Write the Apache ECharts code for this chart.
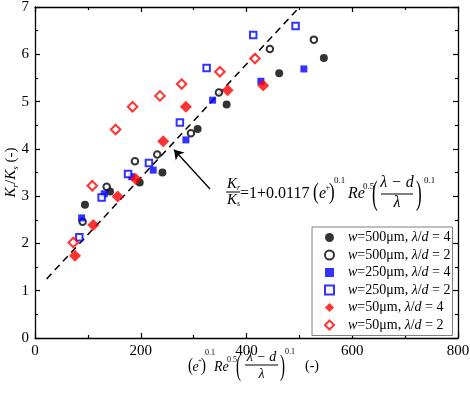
<!DOCTYPE html>
<html>
<head>
<meta charset="utf-8">
<script src="https://cdn.jsdelivr.net/npm/echarts@6/dist/echarts.min.js"></script>
<style>
  html, body { margin: 0; padding: 0; background: #fff; }
  #main { width: 470px; height: 396px; }
</style>
</head>
<body>
<div id="main"></div>
<script>
// values: [x, Kr/Ks]
var w500_r4 = [[94.5,2.82],[141.8,3.10],[198,3.29],[241,3.50],[307.6,4.42],[362.4,4.94],[461.8,5.60],[546.3,5.92]]
var w500_r2 = [[90.1,2.46],[135.5,3.20],[189,3.74],[231.2,3.88],[294.9,4.33],[347.8,5.19],[444.2,6.11],[527.4,6.31]]
var w250_r4 = [[88.2,2.54],[131,3.05],[183,3.41],[223.6,3.55],[285.4,4.19],[335.9,5.03],[427.2,5.43],[508.5,5.69]]
var w250_r2 = [[83.8,2.13],[126,2.97],[176,3.47],[215.5,3.70],[274,4.56],[324.6,5.71],[412.7,6.41],[492.8,6.60]]
var w50_r4  = [[75.6,1.74],[110.3,2.39],[156.3,2.99],[190.5,3.36],[242.5,4.16],[285.4,4.89],[364.3,5.24],[431.6,5.34]]
var w50_r2  = [[72.5,2.02],[108.4,3.22],[152.5,4.41],[184.6,4.89],[236.3,5.12],[277.3,5.37],[349.7,5.63],[415.9,5.91]]

// dashed correlation line and the arrow pointing at it
var fitLine = [[22,1.25],[498,6.97]]
var arrowFrom = [331,3.15]
var arrowTo = [263,3.98]

var xTicks = [0, 200, 400, 600, 800]
var yTicks = [0, 1, 2, 3, 4, 5, 6, 7]

var legendW = ['500', '500', '250', '250', '50', '50']
var legendR = ['4', '2', '4', '2', '4', '2']

var FONT = 'Liberation Serif'

function legendName(i) {
  return 'w=' + legendW[i] + 'μm, λ/d = ' + legendR[i]
}

function txt(x, y, s, size, italic, align, sy) {
  return {
    type: 'text', x: x, y: y, z: 100, scaleY: sy || 1,
    style: {
      text: s, fontSize: size, fontFamily: FONT,
      fontStyle: italic ? 'italic' : 'normal', fill: '#000',
      align: align || 'left', verticalAlign: 'middle'
    }
  }
}
function bar(x1, x2, y) {
  return { type: 'line', z: 100, shape: { x1: x1, y1: y, x2: x2, y2: y }, style: { stroke: '#000', lineWidth: 1 } }
}

// formula inside the plot
var formula = [
  txt(232, 184, 'K', 15, true, 'center'), txt(237, 188, 'r', 8, true),
  bar(226, 240, 192),
  txt(232, 200, 'K', 15, true, 'center'), txt(237, 204, 's', 8, true),
  txt(240, 194, '=1+0.0117', 16),
  txt(313, 193, '(', 17, false, 'left', 1.3),
  txt(319, 194, 'e', 16, true),
  txt(325.5, 188, '+', 8),
  txt(329, 193, ')', 17, false, 'left', 1.3),
  txt(334, 181, '0.1', 9),
  txt(348, 194, 'Re', 16, true),
  txt(363, 187, '0.5', 9),
  txt(372, 195, '(', 17, false, 'left', 2),
  txt(397, 183, 'λ − d', 16, true, 'center'),
  bar(381, 413, 194),
  txt(397, 203, 'λ', 16, true, 'center'),
  txt(416, 195, ')', 17, false, 'left', 2),
  txt(424, 181, '0.1', 9)
]

// x axis title
var xTitle = [
  txt(188, 366, '(', 15, false, 'left', 1.3),
  txt(192.5, 367, 'e', 14, true),
  txt(198, 361, '+', 7),
  txt(201, 366, ')', 15, false, 'left', 1.3),
  txt(205, 353, '0.1', 8),
  txt(214, 367, 'Re', 14, true),
  txt(227, 360, '0.5', 8),
  txt(236, 367, '(', 15, false, 'left', 2),
  txt(261.5, 357, 'λ − d', 14, true, 'center'),
  bar(245, 278, 365),
  txt(261.5, 374, 'λ', 14, true, 'center'),
  txt(280, 367, ')', 15, false, 'left', 2),
  txt(285, 352, '0.1', 8),
  txt(305, 366, '(-)', 14)
]

var chart = echarts.init(document.getElementById('main'))

function mkX(pos, labels) {
  return {
    type: 'value', position: pos, min: xTicks[0], max: xTicks[xTicks.length - 1],
    interval: xTicks[1] - xTicks[0],
    axisLine: { show: true, onZero: false, lineStyle: { color: '#000', width: 1.3 } },
    axisTick: { show: true, inside: true, length: 5, lineStyle: { color: '#000', width: 1.2 } },
    minorTick: { show: true, splitNumber: 2, length: 3, lineStyle: { color: '#000', width: 1.2 } },
    axisLabel: { show: labels, color: '#000', fontFamily: FONT, fontSize: 15, margin: 6 },
    splitLine: { show: false }
  }
}
function mkY(pos, labels) {
  return {
    type: 'value', position: pos, min: yTicks[0], max: yTicks[yTicks.length - 1],
    interval: yTicks[1] - yTicks[0],
    axisLine: { show: true, onZero: false, lineStyle: { color: '#000', width: 1.3 } },
    axisTick: { show: true, inside: true, length: 5, lineStyle: { color: '#000', width: 1.2 } },
    minorTick: { show: true, splitNumber: 2, length: 3, lineStyle: { color: '#000', width: 1.2 } },
    axisLabel: { show: labels, color: '#000', fontFamily: FONT, fontSize: 15, margin: 6 },
    splitLine: { show: false }
  }
}

var yLeft = mkY('left', true)
yLeft.name = '{i|K}{sub|r}{n|/}{i|K}{sub|s}{n| (-)}'
yLeft.nameLocation = 'middle'
yLeft.nameGap = 15
yLeft.nameMoveOverlap = false
yLeft.nameRotate = 90
yLeft.nameTextStyle = {
  color: '#000', fontFamily: FONT, fontSize: 15,
  rich: {
    i: { fontFamily: FONT, fontSize: 15, fontStyle: 'italic', color: '#000' },
    n: { fontFamily: FONT, fontSize: 15, color: '#000' },
    sub: { fontFamily: FONT, fontSize: 9, fontStyle: 'italic', color: '#000', padding: [8, 0, 0, 0] }
  }
}

function scat(i, data, symbol, size, color) {
  var empty = symbol.indexOf('empty') === 0
  return {
    name: legendName(i), type: 'scatter', data: data,
    symbol: symbol, symbolSize: size,
    itemStyle: { color: color, borderColor: color, borderWidth: empty ? 1 : 0 },
    z: 10 + i
  }
}

chart.setOption({
  animation: false,
  backgroundColor: '#fff',
  grid: { left: 35, right: 12, top: 7, bottom: 58, outerBoundsMode: 'none', containLabel: false },
  xAxis: [mkX('bottom', true), mkX('top', false)],
  yAxis: [yLeft, mkY('right', false)],
  legend: {
    orient: 'vertical', left: 312, top: 227,
    padding: [2, 2, 2, 12], itemGap: 0.5,
    itemWidth: 9, itemHeight: 9,
    backgroundColor: '#fff', borderColor: '#7f7f7f', borderWidth: 1,
    data: [0, 1, 2, 3, 4, 5].map(legendName),
    formatter: function (name) {
      var i = [0, 1, 2, 3, 4, 5].map(legendName).indexOf(name)
      return '{sp|}{i|w}{n|=' + legendW[i] + 'μm, }{i|λ}{n|/}{i|d}{n| = ' + legendR[i] + '}'
    },
    textStyle: {
      fontFamily: FONT, fontSize: 14, color: '#000', lineHeight: 17,
      rich: {
        sp: { width: 9 },
        i: { fontFamily: FONT, fontSize: 14, fontStyle: 'italic', color: '#000', lineHeight: 17 },
        n: { fontFamily: FONT, fontSize: 14, color: '#000', lineHeight: 17 }
      }
    }
  },
  graphic: formula.concat(xTitle),
  series: [
    {
      type: 'line', data: fitLine, symbol: 'none', silent: true, z: 5,
      lineStyle: { color: '#000', width: 1.5, type: [7, 5] },
      markLine: {
        silent: true, symbol: ['none', 'arrow'], symbolSize: 9,
        label: { show: false },
        lineStyle: { color: '#000', width: 1.3, type: 'solid' },
        data: [[{ coord: arrowFrom }, { coord: arrowTo }]]
      }
    },
    scat(0, w500_r4, 'circle', 8, '#000'),
    scat(1, w500_r2, 'emptyCircle', 6.5, '#000'),
    scat(2, w250_r4, 'rect', 7, '#0000ff'),
    scat(3, w250_r2, 'emptyRect', 6.5, '#0000ff'),
    scat(4, w50_r4, 'diamond', 12, '#ff0000'),
    scat(5, w50_r2, 'emptyDiamond', 9.5, '#ff0000')
  ]
})
</script>
</body>
</html>
